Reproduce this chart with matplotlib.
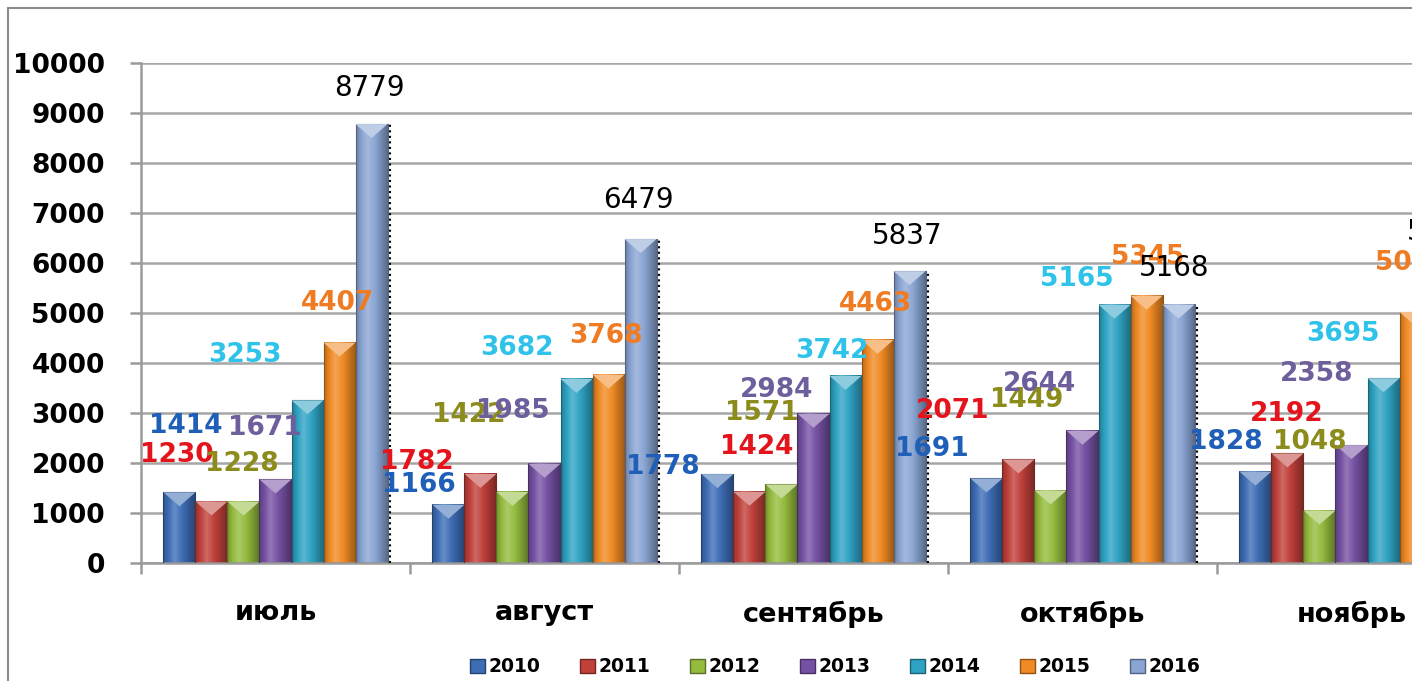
import numpy as np
import matplotlib.pyplot as plt
from matplotlib.patches import Rectangle, Polygon
from matplotlib.colors import to_rgb

# data
months = ['июль', 'август', 'сентябрь', 'октябрь', 'ноябрь']
years = ['2010', '2011', '2012', '2013', '2014', '2015', '2016']
v2010 = [1414, 1166, 1778, 1691, 1828]
v2011 = [1230, 1782, 1424, 2071, 2192]
v2012 = [1228, 1422, 1571, 1449, 1048]
v2013 = [1671, 1985, 2984, 2644, 2358]
v2014 = [3253, 3682, 3742, 5165, 3695]
v2015 = [4407, 3768, 4463, 5345, 5020]
v2016 = [8779, 6479, 5837, 5168, 5940]
series = [v2010, v2011, v2012, v2013, v2014, v2015, v2016]

bar_colors = ['#3d6db5', '#c0403a', '#94bb3e', '#7651a3', '#2fa3c3', '#f08a24', '#8aa5d3']
label_colors = ['#1f5fb8', '#e3141b', '#8c8c1c', '#6e5f9c', '#2fc3ea', '#ef7b22', 'black']

# label placement (the labels were dragged around by hand in the original)
lab_x = [
    [-0.333, 0.533, 1.441, 2.441, 3.533],
    [-0.366, 0.526, 1.790, 2.519, 3.760],
    [-0.125, 0.719, 1.809, 2.794, 3.846],
    [-0.039, 0.883, 1.864, 2.842, 3.872],
    [-0.113, 0.898, 2.069, 2.980, 3.968],
    [0.229, 1.229, 2.232, 3.244, 4.225],
    [0.351, 1.348, 2.348, 3.340, 4.337],
]
lab_y = [
    [2740, 1560, 1920, 2280, 2420],
    [2160, 2020, 2320, 3040, 2980],
    [1980, 2960, 3000, 3260, 2420],
    [2700, 3040, 3460, 3580, 3780],
    [4160, 4300, 4240, 5680, 4580],
    [5200, 4540, 5180, 6120, 6000],
    [9500, 7260, 6540, 5900, 6620],
]

W, H = 1412, 681
fig = plt.figure(figsize=(W / 100, H / 100), dpi=100)
fig.patch.set_facecolor('white')
# axes run past the right edge, like the cropped original
ax = fig.add_axes([141 / W, 1 - 563 / H, 1345 / W, 500 / H])

def shade(c, f):
    c = np.array(to_rgb(c))
    if f >= 1:
        return c + (1 - c) * (f - 1)
    return c * f

t = np.linspace(0, 1, 60)
prof = np.interp(t, [0, 0.35, 1], [0.78, 1.22, 0.62])

bw = 0.119
x = np.arange(len(months))
for i, vals in enumerate(series):
    col = bar_colors[i]
    grad = np.array([[shade(col, f) for f in prof]])
    for j, v in enumerate(vals):
        x0 = x[j] + (i - 3) * bw - bw / 2
        x1 = x0 + bw
        ax.imshow(grad, extent=[x0, x1, 0, v], aspect='auto', interpolation='bilinear', zorder=2)
        ax.add_patch(Rectangle((x0, 0), bw, v, fill=False, edgecolor=shade(col, 0.6), lw=0.8, zorder=3))
        ax.add_patch(Polygon([(x0, v), (x1, v), ((x0 + x1) / 2, v - 280)], closed=True,
                             facecolor=shade(col, 1.45), edgecolor='none', zorder=3))
        if i == 6:
            ax.plot([x1 + 0.01, x1 + 0.01], [0, v], ls=':', color='black', lw=1.5, zorder=3)
        ax.text(lab_x[i][j], lab_y[i][j], str(v), color=label_colors[i], ha='center', va='center',
                fontsize=20 if i == 6 else 19, fontweight='normal' if i == 6 else 'bold', zorder=5)

ax.set_xlim(-0.5, 4.5)
ax.set_ylim(0, 10000)
ax.set_yticks(np.arange(0, 10001, 1000))
ax.yaxis.grid(True, color='#a6a6a6', lw=1.8)
ax.set_axisbelow(True)
for s in ['top', 'right']:
    ax.spines[s].set_visible(False)
for s in ['left', 'bottom']:
    ax.spines[s].set_color('#9a9a9a')
    ax.spines[s].set_linewidth(1.8)
ax.tick_params(axis='y', length=8, width=1.8, color='#9a9a9a', pad=18, labelsize=19)
for lb in ax.get_yticklabels():
    lb.set_fontweight('bold')
ax.set_xticks(x)
ax.set_xticklabels(months, fontsize=19.5, fontweight='bold')
ax.set_xticks(np.arange(-0.5, 5, 1), minor=True)
ax.tick_params(axis='x', which='major', length=0, pad=27)
ax.tick_params(axis='x', which='minor', length=8, width=1.8, color='#9a9a9a')

handles = [Rectangle((0, 0), 1, 1, facecolor=c, edgecolor=shade(c, 0.6)) for c in bar_colors]
fig.legend(handles, years, ncol=7, loc='center', bbox_to_anchor=(835 / W, 1 - 667 / H),
           frameon=False, handlelength=0.8, handleheight=0.8,
           handletextpad=0.2, columnspacing=2.1, prop={'weight': 'bold', 'size': 13.5})

# outer chart frame
fig.add_artist(Rectangle((8 / W, -0.1), 2, 1 - 8 / H + 0.1, transform=fig.transFigure,
                         fill=False, edgecolor='#8c8c8c', lw=1.5))

fig.savefig('out.png', dpi=100)
